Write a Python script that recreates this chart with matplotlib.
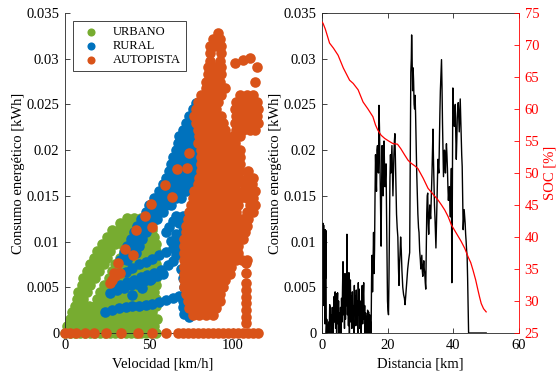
import matplotlib.pyplot as plt
import numpy as np

plt.rcParams['font.family'] = ['Liberation Serif', 'DejaVu Serif']
plt.rcParams['font.size'] = 10.5

VERDE = '#77AC30'
AZUL = '#0072BD'
NARANJA = '#D95319'

# ---- panel izquierdo: consumo vs velocidad (filas de puntos)
# cada fila: (consumo kWh, [velocidades km/h])
urbano_filas = [
    (0.0, [0, 3, 6, 9, 12, 15, 18, 21, 24, 27, 30, 33, 36, 39, 42, 45, 48, 51, 54]),
    (0.00075, [1, 5, 9, 13, 17, 21, 25, 29, 33, 37, 41, 45, 49, 53]),
    (0.0015, [3, 7, 11, 15, 19, 23, 27, 31, 35, 39, 43, 47, 51, 55]),
    (0.00225, [4, 8, 12, 16, 20, 24, 28, 32, 36, 40, 44, 48, 52]),
    (0.003, [6, 10, 14, 18, 22, 26, 30, 34, 38, 42, 46, 50, 54]),
    (0.00375, [7, 11, 19, 23, 27, 31, 35, 39, 43, 47, 51, 54]),
    (0.0045, [8, 13, 21, 25, 29, 33, 37, 41, 45, 49, 53]),
    (0.00525, [10, 15, 23, 27, 31, 35, 39, 43, 47, 51, 54]),
    (0.006, [11, 15, 18, 26, 30, 34, 38, 42, 46, 50, 54]),
    (0.00675, [13, 17, 20, 28, 32, 36, 40, 44, 48, 52]),
    (0.0075, [15, 19, 23, 30, 34, 38, 42, 46, 50, 54]),
    (0.00825, [17, 21, 25, 33, 37, 41, 45, 49, 53]),
    (0.009, [19, 23, 27, 35, 39, 43, 47, 51, 54]),
    (0.00975, [22, 26, 30, 34, 38, 42, 46, 50, 54]),
    (0.0105, [25, 29, 33, 37, 41, 45, 49, 53]),
    (0.01125, [28, 32, 36, 40, 44, 48, 52]),
    (0.012, [33, 37, 41, 45, 49, 52]),
    (0.0126, [37, 41, 45, 49]),
]

rural_sueltos = [
    (24, 0.0023), (28, 0.0025), (32, 0.0027), (36, 0.0028), (40, 0.0029), (44, 0.0030),
    (48, 0.0031), (52, 0.0032), (56, 0.0034), (60, 0.0036), (64, 0.0038), (68, 0.0041),
    (70, 0.0035), (70, 0.0028), (71, 0.0021), (74, 0.0018), (76, 0.0024), (77, 0.0031),
    (27, 0.0044), (31, 0.0047), (35, 0.0049), (39, 0.0052), (43, 0.0054), (47, 0.0057),
    (51, 0.0059), (55, 0.0062), (58, 0.0064),
    (29, 0.0051), (33, 0.0053), (37, 0.0056), (41, 0.0058), (45, 0.0061), (49, 0.0063),
    (53, 0.0066), (57, 0.0069), (61, 0.0074), (64, 0.0079), (66, 0.0085),
    (36, 0.0067), (40, 0.0071), (44, 0.0075), (48, 0.0078), (52, 0.0081), (56, 0.0085),
    (60, 0.0089), (64, 0.0093), (68, 0.0097), (71, 0.0101),
    (39.8, 0.0042), (45.7, 0.0049), (50.5, 0.0058),
    (66, 0.0090), (68, 0.0105), (70, 0.0112), (69, 0.0070), (70, 0.0060), (71, 0.0050),
    (72, 0.0043), (68, 0.0120), (70, 0.0128),
    (60, 0.0110), (62, 0.0116), (64, 0.0122), (66, 0.0128), (63, 0.0101), (66, 0.0108),
]
rural_filas = [
    (0.008, [33, 37]),
    (0.00875, [35, 39, 42]),
    (0.0095, [37, 41, 44]),
    (0.01025, [39, 43, 46]),
    (0.011, [41, 45, 48]),
    (0.01175, [43, 47, 50]),
    (0.0125, [45, 49, 52, 55]),
    (0.01325, [48, 52, 55, 58]),
    (0.014, [50, 54, 57, 60, 63]),
    (0.01475, [53, 57, 60, 63, 66, 69]),
    (0.0155, [56, 60, 63, 66, 69, 72]),
    (0.01625, [58, 62, 65, 68, 71, 74]),
    (0.017, [60, 63, 66, 69, 72, 75]),
    (0.01775, [62, 65, 68, 71, 74, 77]),
    (0.0185, [63, 66, 69, 72, 75, 78]),
    (0.01925, [64, 67, 70, 73, 76, 79]),
    (0.02, [66, 69, 72, 75, 78]),
    (0.02075, [67, 70, 73, 76, 79]),
    (0.0215, [68, 71, 74, 77]),
    (0.02225, [70, 73, 76, 79]),
    (0.023, [72, 75, 78]),
    (0.02375, [74, 77]),
    (0.0245, [76, 79]),
    (0.0252, [78]),
]

autopista_sueltos = [
    (0, 0), (3, 0), (6.5, 0), (11.7, 0), (17, 0), (24.5, 0), (33.5, 0), (43.4, 0),
    (52, 0), (60, 0),
    (26.5, 0.0055), (27.9, 0.0058), (28.9, 0.0066), (29.5, 0.0062), (32.9, 0.0066),
    (31.5, 0.0077), (35.8, 0.0092), (40.4, 0.0085), (42.2, 0.0113), (47.3, 0.0128),
    (52, 0.0116), (51.3, 0.0141), (59.5, 0.0162), (63.5, 0.0149), (66.5, 0.0179),
    (72.5, 0.0181), (74, 0.0197), (79, 0.0208),
    (107.5, 0.0011), (107.5, 0.0018), (107.5, 0.0025), (107.5, 0.0033), (107.5, 0.0039),
    (107.5, 0.0047), (107.5, 0.0055), (107.5, 0.0066), (107.5, 0.0077),
    (101, 0.0295), (106, 0.0299), (110, 0.0301), (114, 0.0291), (113, 0.0274),
]
autopista_filas = [
    (0.0, [67, 70, 73, 76, 79, 82, 85, 88, 91, 94, 97, 100, 103, 106, 109, 112, 115]),
    (0.002, [76, 80, 84, 88]),
    (0.00275, [74, 78, 82, 86, 90]),
    (0.0035, [73, 77, 81, 85, 89, 92]),
    (0.00425, [72, 76, 80, 84, 88, 92]),
    (0.005, [71, 75, 79, 83, 87, 91, 94]),
    (0.00575, [71, 75, 79, 83, 87, 91, 95]),
    (0.0065, [71, 75, 79, 83, 87, 91, 95, 98]),
    (0.00725, [71, 75, 79, 83, 87, 91, 95, 99]),
    (0.008, [71, 75, 79, 83, 87, 91, 95, 99, 102, 105, 108]),
    (0.00875, [71, 75, 79, 83, 87, 91, 95, 99, 103]),
    (0.0095, [71, 75, 79, 83, 87, 91, 95, 99, 103]),
    (0.01025, [71, 75, 79, 83, 87, 91, 95, 99, 103, 106]),
    (0.011, [72, 76, 80, 84, 88, 92, 96, 100, 104, 107]),
    (0.01175, [72, 76, 80, 84, 88, 92, 96, 100, 104, 108]),
    (0.0125, [73, 77, 81, 85, 89, 93, 97, 101, 105, 109]),
    (0.01325, [74, 78, 82, 86, 90, 94, 98, 102, 108, 112]),
    (0.014, [75, 79, 83, 87, 91, 95, 99, 103, 110, 113]),
    (0.01475, [76, 80, 84, 88, 92, 96, 100, 104, 108, 112]),
    (0.0155, [77, 81, 85, 89, 93, 97, 101, 106, 110, 113]),
    (0.01625, [79, 83, 87, 91, 95, 99, 102, 107, 111]),
    (0.017, [80, 84, 88, 92, 96, 100, 103, 108, 112]),
    (0.01775, [81, 85, 89, 93, 97, 101, 104, 109]),
    (0.0185, [81, 85, 89, 93, 97, 101, 104]),
    (0.01925, [81, 85, 89, 93, 97, 101, 104]),
    (0.02, [81, 85, 89, 93, 97, 101, 104]),
    (0.02075, [81, 85, 89, 93, 97, 101]),
    (0.0215, [80, 84, 88, 92, 96, 100, 104]),
    (0.02225, [79, 83, 87, 91, 95, 102, 106, 110, 113]),
    (0.023, [78, 82, 86, 90, 94, 101, 105, 109, 113, 115]),
    (0.02375, [77, 81, 85, 89, 93, 102, 106, 110, 114]),
    (0.0245, [78, 82, 86, 90, 101, 105, 109, 113, 115]),
    (0.02525, [79, 83, 87, 91, 102, 106, 110, 114]),
    (0.026, [81, 85, 89, 93, 104, 108, 112]),
    (0.02675, [84, 88, 92, 95]),
    (0.0275, [84, 88, 92]),
    (0.0283, [85, 89, 93]),
    (0.0291, [85, 89, 93]),
    (0.0298, [86, 92]),
    (0.0306, [86, 93]),
    (0.0314, [86, 89, 93]),
    (0.0322, [88, 92]),
    (0.0328, [91]),
]

# ---- panel derecho: consumo (distancia km, kWh) a lo largo del recorrido
recorrido = [
    (0.00, 0.0), (0.10, 0.0115), (0.20, 0.0100), (0.30, 0.0120), (0.40, 0.0060),
    (0.50, 0.0118), (0.60, 0.0030), (0.70, 0.0110), (0.80, 0.0080), (0.90, 0.0010),
    (1.00, 0.0113), (1.10, 0.0060), (1.20, 0.0112), (1.30, 0.0), (1.45, 0.0015),
    (1.60, 0.0), (1.75, 0.0008), (1.90, 0.0), (2.05, 0.0012), (2.20, 0.0),
    (2.35, 0.0031), (2.50, 0.0010), (2.65, 0.0028), (2.80, 0.0), (2.95, 0.0020),
    (3.10, 0.0003), (3.25, 0.0028), (3.40, 0.0), (3.55, 0.0018), (3.70, 0.0040),
    (3.85, 0.0012), (4.00, 0.0045), (4.15, 0.0005), (4.30, 0.0043), (4.45, 0.0),
    (4.60, 0.0030), (4.75, 0.0044), (4.90, 0.0010), (5.05, 0.0035), (5.20, 0.0),
    (5.35, 0.0022), (5.50, 0.0004), (5.65, 0.0028), (5.80, 0.0), (5.95, 0.0038),
    (6.10, 0.0012), (6.25, 0.0050), (6.40, 0.0078), (6.55, 0.0020), (6.70, 0.0040),
    (6.85, 0.0005), (7.00, 0.0065), (7.15, 0.0015), (7.30, 0.0058), (7.45, 0.0030),
    (7.60, 0.0108), (7.75, 0.0020), (7.90, 0.0062), (8.05, 0.0008), (8.20, 0.0066),
    (8.35, 0.0), (8.50, 0.0045), (8.65, 0.0058), (8.80, 0.0012), (8.95, 0.0040),
    (9.10, 0.0005), (9.25, 0.0045), (9.40, 0.0015), (9.55, 0.0030), (9.70, 0.0),
    (9.85, 0.0052), (10.00, 0.0020), (10.15, 0.0040), (10.30, 0.0008), (10.45, 0.0047),
    (10.60, 0.0015), (10.75, 0.0035), (10.90, 0.0), (11.05, 0.0055), (11.20, 0.0020),
    (11.35, 0.0048), (11.50, 0.0005), (11.65, 0.0035), (11.80, 0.0010), (11.95, 0.0),
    (12.10, 0.0030), (12.25, 0.0052), (12.40, 0.0010), (12.55, 0.0040), (12.70, 0.0055),
    (12.85, 0.0015), (13.00, 0.0030), (13.15, 0.0), (13.30, 0.0022), (13.45, 0.0005),
    (13.60, 0.0018), (13.75, 0.0), (13.90, 0.0025), (14.05, 0.0008), (14.20, 0.0023),
    (14.35, 0.0), (14.50, 0.0020), (14.65, 0.0003), (14.80, 0.0012), (14.95, 0.0),
    (15.10, 0.0060), (15.25, 0.0085), (15.40, 0.0045), (15.55, 0.0080), (15.70, 0.0110),
    (15.85, 0.0065), (16.00, 0.0090), (16.15, 0.0150), (16.30, 0.0195), (16.45, 0.0170),
    (16.60, 0.0155), (16.75, 0.0200), (16.90, 0.0205), (17.05, 0.0180), (17.20, 0.0175),
    (17.35, 0.0249), (17.50, 0.0225), (17.65, 0.0185), (17.80, 0.0140), (18.00, 0.0095),
    (18.15, 0.0160), (18.30, 0.0205), (18.45, 0.0185), (18.60, 0.0150), (18.75, 0.0195),
    (18.90, 0.0210), (19.05, 0.0180), (19.20, 0.0160), (19.35, 0.0175), (19.50, 0.0185),
    (19.65, 0.0140), (19.80, 0.0085), (19.95, 0.0035), (20.10, 0.0025), (20.25, 0.0020),
    (20.40, 0.0060), (20.55, 0.0120), (20.70, 0.0170), (20.85, 0.0195), (21.00, 0.0175),
    (21.15, 0.0190), (21.30, 0.0205), (21.45, 0.0180), (21.60, 0.0150), (21.75, 0.0175),
    (21.90, 0.0195), (22.05, 0.0210), (22.20, 0.0218), (22.35, 0.0190), (22.50, 0.0165),
    (22.70, 0.0130), (22.90, 0.0115), (23.10, 0.0105), (23.30, 0.0070), (23.45, 0.0052),
    (23.60, 0.0075), (23.75, 0.0085), (23.95, 0.0105), (24.15, 0.0090), (24.35, 0.0068),
    (24.60, 0.0050), (24.85, 0.0042), (25.10, 0.0038), (25.30, 0.0031), (25.50, 0.0040),
    (25.80, 0.0055), (26.10, 0.0070), (26.40, 0.0080), (26.70, 0.0088), (26.90, 0.0200),
    (27.05, 0.0285), (27.20, 0.0300), (27.30, 0.0326), (27.45, 0.0300), (27.60, 0.0265),
    (27.75, 0.0290), (27.90, 0.0275), (28.05, 0.0250), (28.20, 0.0245), (28.35, 0.0260),
    (28.50, 0.0240), (28.70, 0.0200), (28.85, 0.0175), (29.05, 0.0150), (29.20, 0.0130),
    (29.40, 0.0115), (29.55, 0.0110), (29.75, 0.0090), (29.95, 0.0080), (30.10, 0.0070),
    (30.25, 0.0078), (30.40, 0.0085), (30.55, 0.0068), (30.70, 0.0062), (30.85, 0.0072),
    (31.00, 0.0079), (31.15, 0.0070), (31.30, 0.0065), (31.45, 0.0055), (31.60, 0.0048),
    (31.75, 0.0090), (31.90, 0.0130), (32.05, 0.0150), (32.20, 0.0153), (32.35, 0.0120),
    (32.50, 0.0108), (32.65, 0.0125), (32.80, 0.0140), (32.95, 0.0130), (33.10, 0.0125),
    (33.30, 0.0150), (33.50, 0.0175), (33.65, 0.0200), (33.80, 0.0223), (33.95, 0.0190),
    (34.10, 0.0165), (34.25, 0.0140), (34.40, 0.0127), (34.55, 0.0110), (34.70, 0.0093),
    (34.85, 0.0115), (35.00, 0.0140), (35.15, 0.0165), (35.30, 0.0190), (35.45, 0.0180),
    (35.60, 0.0175), (35.75, 0.0210), (35.90, 0.0240), (36.05, 0.0265), (36.20, 0.0280),
    (36.40, 0.0299), (36.55, 0.0270), (36.70, 0.0230), (36.85, 0.0200), (37.00, 0.0171),
    (37.15, 0.0185), (37.30, 0.0200), (37.45, 0.0190), (37.60, 0.0175), (37.75, 0.0195),
    (37.90, 0.0207), (38.05, 0.0195), (38.20, 0.0180), (38.35, 0.0160), (38.50, 0.0145),
    (38.65, 0.0155), (38.80, 0.0160), (38.95, 0.0140), (39.10, 0.0127), (39.25, 0.0150),
    (39.40, 0.0180), (39.55, 0.0055), (39.70, 0.0150), (39.85, 0.0268), (40.00, 0.0250),
    (40.15, 0.0235), (40.30, 0.0226), (40.45, 0.0240), (40.60, 0.0250), (40.75, 0.0215),
    (40.90, 0.0190), (41.05, 0.0210), (41.20, 0.0235), (41.35, 0.0245), (41.50, 0.0252),
    (41.65, 0.0235), (41.80, 0.0220), (41.95, 0.0240), (42.10, 0.0256), (42.25, 0.0235),
    (42.40, 0.0215), (42.55, 0.0195), (42.70, 0.0182), (42.85, 0.0150), (43.00, 0.0113),
    (43.15, 0.0125), (43.30, 0.0135), (43.45, 0.0128), (43.60, 0.0120), (43.75, 0.0108),
    (43.90, 0.0100), (44.05, 0.0090), (44.20, 0.0084), (44.35, 0.0060), (44.50, 0.0030),
    (44.65, 0.0), (50.00, 0.0),
]

soc_dist = [0.0, 0.3, 1.0, 2.3, 3.5, 4.9, 6.5, 8.4, 9.5, 11.0, 12.5, 14.0, 15.5, 16.3, 17.0,
            18.0, 19.1, 20.3, 21.6, 23.0, 24.0, 25.2, 26.2, 27.2, 28.3, 29.2, 30.8, 32.3,
            33.8, 35.3, 36.4, 37.4, 38.4, 39.4, 40.9, 42.4, 43.5, 44.5, 45.3, 46.0, 46.8,
            47.5, 48.0, 48.5, 49.2, 50.0]
soc = [73.6, 73.4, 72.5, 70.3, 69.5, 68.4, 66.4, 64.5, 64.0, 63.0, 61.1, 60.0, 58.8, 57.5,
       56.7, 55.9, 55.4, 55.0, 54.6, 54.5, 53.8, 52.8, 52.0, 51.5, 51.1, 50.7, 49.2, 47.6,
       46.7, 45.8, 45.0, 44.2, 43.2, 41.9, 40.6, 39.3, 38.2, 36.9, 36.0, 34.8, 33.3, 31.7,
       30.6, 29.6, 28.8, 28.3]


def aplanar(filas, sueltos=()):
    v, c = [], []
    for ci, vs in filas:
        v += vs
        c += [ci] * len(vs)
    for vi, ci in sueltos:
        v.append(vi)
        c.append(ci)
    return np.array(v), np.array(c)


GRIS = '#262626'
TAM = 58
fig = plt.figure(figsize=(5.56, 3.76), dpi=100)

ax1 = fig.add_axes([65 / 556, 43 / 376, 195 / 556, 320 / 376])
uv, uc = aplanar(urbano_filas)
rv, rc = aplanar(rural_filas, rural_sueltos)
av, ac = aplanar(autopista_filas, autopista_sueltos)
ax1.scatter(uv, uc, s=TAM, c=VERDE, linewidths=0, label='URBANO', clip_on=False, zorder=2)
ax1.scatter(rv, rc, s=TAM, c=AZUL, linewidths=0, label='RURAL', clip_on=False, zorder=3)
ax1.scatter(av, ac, s=TAM, c=NARANJA, linewidths=0, label='AUTOPISTA', clip_on=False, zorder=4)
ax1.set_xlim(0, 116)
ax1.set_ylim(0, 0.035)
ax1.set_xticks([0, 50, 100])
yt = [0, 0.005, 0.01, 0.015, 0.02, 0.025, 0.03, 0.035]
ylab = ['0', '0.005', '0.01', '0.015', '0.02', '0.025', '0.03', '0.035']
ax1.set_yticks(yt)
ax1.set_yticklabels(ylab)
ax1.spines['top'].set_visible(False)
ax1.spines['right'].set_visible(False)
for s in ['left', 'bottom']:
    ax1.spines[s].set_color(GRIS)
    ax1.spines[s].set_linewidth(0.6)
ax1.tick_params(direction='in', length=3.5, width=0.6, color=GRIS, pad=4)
ax1.set_xlabel('Velocidad [km/h]', labelpad=4)
ax1.set_ylabel('Consumo energético [kWh]', labelpad=1)
leg = ax1.legend(loc='upper left', borderaxespad=0.65, fancybox=False, framealpha=1,
                 edgecolor=GRIS, fontsize=9, borderpad=0.4, labelspacing=0.15,
                 scatterpoints=1, handletextpad=0.8, handlelength=2)
leg.get_frame().set_linewidth(0.6)
for h in leg.legend_handles:
    h.set_sizes([34])

ax2 = fig.add_axes([322 / 556, 43 / 376, 197 / 556, 320 / 376])
dist = [p[0] for p in recorrido]
consumo = [p[1] for p in recorrido]
ax2.plot(dist, consumo, color='k', lw=1.0)
ax2.set_xlim(0, 60)
ax2.set_ylim(0, 0.035)
ax2.set_xticks([0, 20, 40, 60])
ax2.set_yticks(yt)
ax2.set_yticklabels(ylab)
ax2.spines['right'].set_visible(False)
for s in ['left', 'bottom', 'top']:
    ax2.spines[s].set_color(GRIS)
    ax2.spines[s].set_linewidth(0.6)
ax2.tick_params(direction='in', length=3.5, width=0.6, color=GRIS, pad=4, top=True)
ax2.set_xlabel('Distancia [km]', labelpad=4)
ax2.set_ylabel('Consumo energético [kWh]', labelpad=1)

ax3 = ax2.twinx()
ax3.plot(soc_dist, soc, color='#FF0000', lw=0.9)
ax3.set_ylim(25, 75)
ax3.set_yticks([25, 30, 35, 40, 45, 50, 55, 60, 65, 70, 75])
for s in ['left', 'top', 'bottom']:
    ax3.spines[s].set_visible(False)
ax3.spines['right'].set_color('#FF0000')
ax3.spines['right'].set_linewidth(0.6)
ax3.tick_params(direction='in', length=3.5, width=0.6, colors='#FF0000', pad=4)
ax3.set_ylabel('SOC [%]', color='#FF0000', rotation=90, labelpad=3)

fig.savefig('out.png', dpi=100)
